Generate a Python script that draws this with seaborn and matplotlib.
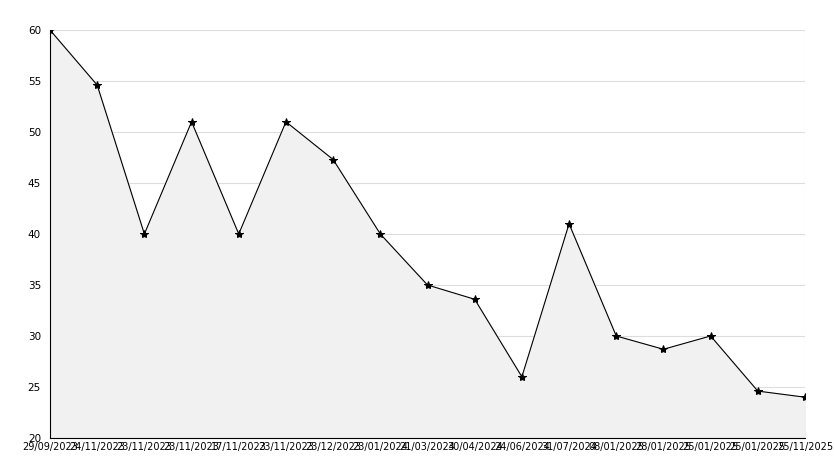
import matplotlib
matplotlib.use("Agg")
import matplotlib.pyplot as plt
import seaborn as sns
import pandas as pd

labels = ["29/09/2023", "24/11/2023", "23/11/2023", "23/11/2023", "17/11/2023", "23/11/2023",
          "23/12/2023", "23/01/2024", "21/03/2024", "30/04/2024", "24/06/2024", "31/07/2024",
          "08/01/2025", "28/01/2025", "25/01/2025", "25/01/2025", "25/11/2025"]
values = [60, 54.6, 40, 51, 40, 51, 47.3, 40, 35, 33.6, 26, 41, 30, 28.7, 30, 24.6, 24]

sns.set_style("white")
plt.rcParams['font.family'] = ['DejaVu Sans']
fig = plt.figure(figsize=(8.34, 4.68), dpi=100)
ax = fig.add_axes([50/834, 30/468, 755/834, 408/468])
df = pd.DataFrame({"i": range(len(values)), "v": values})
ax.fill_between(df["i"], df["v"], 20, color="#f1f1f1", zorder=1)
sns.lineplot(data=df, x="i", y="v", ax=ax, color="black", linewidth=0.8,
             marker="*", markersize=6, markeredgecolor="black", zorder=3)
ax.set_xlim(0, len(values) - 1)
ax.set_ylim(20, 60)
ax.set_yticks(range(20, 61, 5))
ax.set_xticks(range(len(values)))
ax.set_xticklabels(labels, fontsize=7, color="black")
ax.tick_params(axis='y', labelsize=7.5, length=3, labelcolor="black")
ax.tick_params(axis='x', length=4, direction='in', pad=3)
ax.yaxis.grid(True, color="#dddddd", linewidth=0.8, zorder=0)
ax.set_axisbelow(True)
ax.set_xlabel("")
ax.set_ylabel("")
for s in ["top", "right"]:
    ax.spines[s].set_visible(False)
for s in ["left", "bottom"]:
    ax.spines[s].set_color("black")
    ax.spines[s].set_linewidth(0.8)
ax.axvline(len(values) - 1, color="#cccccc", linewidth=0.8)
fig.savefig("out.png", dpi=100)
